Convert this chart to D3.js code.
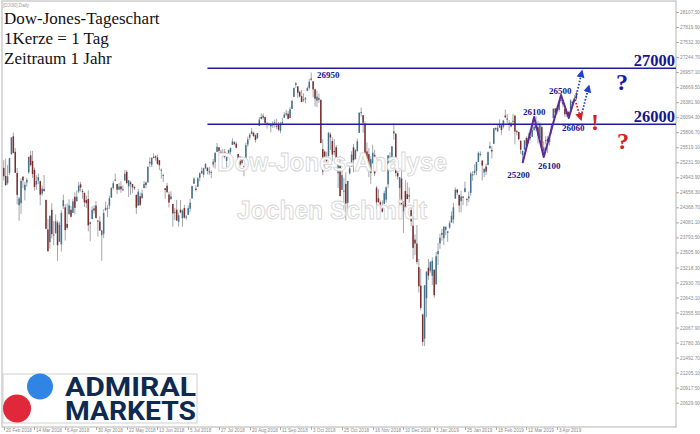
<!DOCTYPE html>
<html><head><meta charset="utf-8">
<script src="https://cdn.jsdelivr.net/npm/d3@7"></script>
<style>body{margin:0;background:#fff}svg{display:block}</style>
</head><body>
<svg id="c" width="700" height="434"></svg>
<script>
// Daily bars [open, high, low, close] of the DJI30 CFD
const feb2018 = [[25124,25272,24884,24964],[24970,25302,24777,24797],[24832,25175,24800,24962],[25030,25310,24986,25309],[25383,25709,25383,25709],[25728,25800,25401,25410],[25432,25505,25029,25029]];
const mar2018 = [[25024,25123,24425,24608],[24409,24567,24114,24538],[24447,24926,24242,24874],[24956,24962,24736,24884],[24697,24856,24502,24801],[24844,24934,24762,24895],[25040,25336,25006,25335],[25363,25450,25148,25178],[25255,25449,24933,25007],[25087,25131,24684,24758],[24803,24982,24706,24873],[24878,25017,24814,24946],[24870,24877,24408,24611],[24631,24789,24589,24727],[24719,24988,24665,24683],[24512,24512,23948,23958],[23945,24151,23509,23533],[23703,24219,23579,24202],[24322,24448,23773,23857],[23842,24107,23645,23849],[23874,24234,23865,24103]];
const apr2018 = [[24076,24118,23344,23644],[23711,24090,23711,24034],[23660,24312,23524,24264],[24392,24612,24338,24505],[24369,24429,23733,23933],[24052,24445,23944,23979],[24242,24524,24220,24408],[24322,24396,24174,24189],[24263,24535,24263,24483],[24571,24658,24237,24360],[24486,24693,24486,24573],[24673,24858,24640,24786],[24810,24858,24673,24748],[24680,24720,24535,24665],[24648,24648,24376,24463],[24509,24596,24357,24449],[24529,24695,23909,24024],[24049,24098,23718,24083],[24144,24388,24143,24322],[24348,24412,24248,24311],[24403,24488,24163,24163]];
const may2018 = [[24117,24117,23809,24100],[24098,24199,23918,23925],[23836,23872,23345,23930],[23865,24333,23779,24263],[24318,24479,24300,24358],[24341,24412,24186,24361],[24400,24591,24338,24543],[24554,24754,24554,24740],[24738,24867,24707,24831],[24887,25016,24873,24900],[24815,24815,24621,24707],[24708,24836,24696,24769],[24771,24870,24649,24714],[24701,24787,24678,24715],[24882,25087,24882,25013],[25047,25086,24812,24834],[24770,24889,24563,24887],[24845,24876,24606,24812],[24816,24816,24641,24753],[24755,24780,24700,24740],[24610,24610,24242,24362],[24402,24723,24402,24668],[24582,24650,24394,24416]];
const jun2018 = [[24542,24707,24542,24635],[24738,24872,24734,24814],[24843,24862,24734,24799],[24846,25150,24846,25146],[25211,25326,25140,25241],[25183,25320,25141,25317],[25337,25403,25306,25322],[25346,25365,25260,25320],[25327,25374,25182,25201],[25272,25272,25082,25175],[25070,25113,24917,25090],[24982,25014,24854,24987],[24733,24733,24535,24700],[24782,24838,24652,24657],[24617,24667,24367,24461],[24523,24676,24521,24580],[24434,24434,23997,24252],[24279,24357,24130,24283],[24324,24512,24110,24117],[24092,24269,23999,24216],[24324,24509,24257,24271]];
const jul2018 = [[24161,24331,23997,24307],[24357,24416,24149,24174],[24174,24220,24130,24190],[24225,24405,24225,24356],[24343,24528,24275,24456],[24538,24784,24538,24776],[24820,24947,24819,24919],[24727,24792,24673,24700],[24764,24951,24764,24924],[24935,25041,24868,25019],[25020,25133,25010,25064],[24996,25125,24942,25119],[25119,25216,25097,25199],[25127,25135,24998,25064],[25035,25141,24992,25058],[25025,25077,24925,25044],[25187,25299,25131,25241],[25232,25422,25110,25414],[25430,25601,25430,25527],[25517,25518,25360,25451],[25432,25468,25280,25307],[25357,25486,25320,25415]];
const aug2018 = [[25431,25490,25301,25333],[25259,25353,25131,25327],[25355,25474,25338,25463],[25432,25517,25393,25502],[25565,25692,25565,25629],[25614,25636,25553,25583],[25587,25625,25494,25509],[25389,25389,25230,25313],[25337,25350,25155,25187],[25218,25334,25189,25300],[25157,25157,24965,25162],[25307,25609,25307,25558],[25571,25721,25525,25669],[25703,25789,25663,25758],[25770,25888,25770,25822],[25795,25816,25714,25733],[25747,25767,25608,25656],[25688,25792,25688,25790],[25926,26095,25926,26049],[26098,26167,26051,26064],[26081,26167,26046,26124],[26096,26108,25949,25986],[25976,26010,25877,25965]];
const sep2018 = [[25965,25990,25930,25960],[25917,25986,25806,25952],[25936,26020,25888,25974],[25982,26051,25896,25995],[25932,26064,25866,25916],[25953,26005,25832,25857],[25833,26005,25787,25971],[25985,26082,25939,25999],[26082,26190,26082,26145],[26165,26237,26110,26154],[26160,26214,26052,26062],[26077,26294,26077,26246],[26254,26427,26253,26405],[26483,26657,26483,26657],[26711,26769,26655,26743],[26685,26685,26459,26562],[26581,26601,26474,26492],[26497,26616,26378,26385],[26418,26553,26387,26439],[26437,26485,26357,26458]];
const oct2018 = [[26598,26680,26598,26651],[26656,26828,26622,26774],[26833,26951,26791,26828],[26781,26781,26472,26627],[26629,26641,26299,26447],[26410,26599,26286,26487],[26457,26549,26371,26431],[26422,26444,25598,25599],[25484,25673,24987,25053],[25435,25459,25092,25340],[25313,25434,25218,25250],[25347,25805,25347,25798],[25764,25803,25469,25706],[25640,25711,25258,25379],[25445,25676,25365,25444],[25519,25564,25239,25317],[25021,25206,24741,25191],[25217,25354,24583,24583],[24705,25066,24705,24985],[24670,24934,24337,24689],[24817,25039,24122,24443],[24454,24875,24268,24875],[25021,25235,24995,25116]];
const nov2018 = [[25142,25443,25142,25380],[25517,25580,25039,25271],[25289,25486,25289,25462],[25443,25686,25443,25635],[25795,26181,25795,26181],[26176,26277,26107,26191],[26132,26132,25797,25989],[25971,26010,25329,25388],[25439,25611,25192,25287],[25388,25501,24947,25080],[25025,25344,24818,25289],[25211,25568,25211,25413],[25374,25470,24967,25017],[24745,24780,24341,24465],[24543,24715,24464,24465],[24465,24500,24380,24420],[24382,24502,24268,24286],[24437,24688,24437,24640],[24516,24773,24458,24749],[24810,25366,24740,25366],[25279,25421,25212,25339],[25303,25538,25256,25538]];
const dec2018 = [[25779,25980,25664,25826],[25780,25780,24958,25027],[25027,25080,24900,24960],[24737,24947,24242,24947],[24918,25096,24314,24389],[24292,24490,23881,24423],[24681,24890,24247,24370],[24621,24846,24527,24527],[24598,24752,24459,24597],[24316,24381,24007,24101],[24017,24180,23381,23593],[23751,23850,23452,23676],[23675,24030,23279,23324],[23225,23381,22738,22859],[22871,23194,22397,22446],[22317,22339,21712,21792],[21857,22878,21713,22878],[22629,23139,22267,23139],[23213,23381,22982,23062],[23154,23333,23118,23327]];
const jan2019 = [[23058,23413,22879,23346],[23177,23177,22638,22686],[22894,23518,22894,23433],[23474,23687,23266,23531],[23680,23864,23575,23787],[23844,23956,23731,23879],[23778,24002,23646,24001],[23939,24000,23840,23996],[23880,23918,23709,23910],[23981,24111,23961,24065],[24076,24290,24076,24207],[24137,24456,24059,24370],[24534,24750,24534,24706],[24706,24720,24600,24650],[24608,24608,24274,24404],[24487,24688,24273,24575],[24574,24588,24411,24553],[24660,24862,24660,24737],[24527,24554,24398,24528],[24543,24671,24465,24580],[24645,25048,24591,25014],[24988,25062,24878,24999]];
const feb2019 = [[25025,25193,24985,25064],[25062,25239,24982,25239],[25238,25439,25238,25411],[25371,25439,25341,25391],[25265,25265,24884,25169],[25037,25114,24948,25106],[25148,25208,24990,25053],[25178,25437,25178,25425],[25497,25625,25497,25543],[25467,25538,25305,25439],[25585,25883,25585,25883],[25883,25900,25840,25870],[25823,25946,25808,25891],[25894,26052,25894,25954],[25937,25962,25760,25850],[25912,26036,25880,26031],[26126,26241,26082,26091],[26068,26156,25981,26057],[25978,26040,25834,25986],[25970,26005,25897,25916]];
const mar2019 = [[26019,26156,25937,26026],[26122,26143,25574,25819],[25825,25852,25744,25806],[25813,25814,25650,25673],[25645,25645,25392,25473],[25367,25456,25208,25450],[25473,25651,25473,25650],[25695,25725,25540,25555],[25598,25797,25598,25702],[25713,25793,25652,25709],[25719,25918,25719,25849],[25851,25952,25822,25914],[25936,26110,25835,25887],[25903,26028,25591,25746],[25693,25994,25645,25963],[25903,25937,25478,25502],[25443,25633,25372,25516],[25646,25732,25572,25657],[25681,25732,25409,25626],[25625,25729,25552,25717],[25836,25949,25776,25929]];
const apr2019 = [[26076,26259,26076,26258],[26263,26263,26112,26180],[26269,26316,26147,26219],[26234,26400,26197,26385],[26417,26441,26368,26425],[26382,26399,26279,26341],[26258,26258,26100,26150],[26176,26192,26101,26157],[26193,26219,26111,26143],[26240,26440,26240,26412],[26385,26411,26302,26384],[26455,26522,26391,26453],[26561,26596,26421,26450]];

const noBarDays = ["2018-03-30", "2018-12-25", "2019-01-01"];
const xTickLabels = ["20 Feb 2018","14 Mar 2018","6 Apr 2018","30 Apr 2018","22 May 2018","13 Jun 2018","5 Jul 2018","27 Jul 2018","20 Aug 2018","11 Sep 2018","3 Oct 2018","25 Oct 2018","16 Nov 2018","10 Dec 2018","3 Jan 2019","25 Jan 2019","18 Feb 2019","12 Mar 2019","3 Apr 2019"];
const yTickValues = [28107.5,27819.9,27532.3,27244.7,26957.1,26669.5,26381.9,26094.3,25806.7,25519.1,25231.5,24943.9,24656.3,24368.7,24081.1,23793.5,23505.9,23218.3,22930.7,22643.1,22355.5,22067.9,21780.3,21492.7,21205.1,20917.5,20629.9];

const titleLines = ["Dow-Jones-Tageschart", "1Kerze = 1 Tag", "Zeitraum 1 Jahr"];
const levelLines = [{v: 27030, label: "27000", from: 106}, {v: 25960, label: "26000", from: 106}];
const zigzag = [[270,25217],[276,26098],[281,25332],[290,26519],[294,26079],[297,26442]];
const priceLabels = [{t:"26950", i:163, v:26844},{t:"25200", i:262, v:24930},{t:"26100", i:270.2, v:26136},{t:"26100", i:278, v:25103},{t:"26500", i:283.7, v:26538},{t:"26060", i:290.5, v:25830}];
const blueArrows = [[[297.3,26404],[300.9,26978]],[[300.9,26174],[304.5,26691]]];
const redArrows = [[[297.8,26366],[300.4,26050]]];
const marks = [{t:"?", i:321.7, v:26615, c:"#1a1aa8"},{t:"?", i:322.2, v:25485, c:"#d42020"},{t:"!", i:307.7, v:25849, c:"#d42020"}];

const bars = [].concat(feb2018, mar2018, apr2018, may2018, jun2018, jul2018, aug2018, sep2018, oct2018, nov2018, dec2018, jan2019, feb2019, mar2019, apr2019);

// trading calendar of the bars
const fmtISO = d3.timeFormat("%Y-%m-%d"), fmtLab = d3.timeFormat("%-d %b %Y");
const dates = [];
for (let d = new Date(2018, 1, 20); dates.length < bars.length; d = d3.timeDay.offset(d, 1)) {
  const wd = d.getDay();
  if (wd === 0 || wd === 6 || noBarDays.includes(fmtISO(d))) continue;
  dates.push(new Date(d));
}

const svg = d3.select("#c");
const L = 2, R = 676, T = 1, B = 427;
const x = d3.scaleLinear().domain([-0.9, 349.3]).range([L, R - 1]);
const y = d3.scaleLinear().domain([20629.9, 28107.5]).range([402.7, 12]);

// frame
svg.append("rect").attr("x", L).attr("y", T).attr("width", R - L).attr("height", B - T)
  .attr("fill", "#fff").attr("stroke", "#b4b4b4").attr("stroke-width", 1);

svg.append("text").attr("x", 3).attr("y", 7).attr("font-family", "Liberation Sans, Arial").attr("font-size", 4.6)
  .attr("fill", "#999").text("[DJI30],Daily");

// right axis
const yAxis = d3.axisRight(y).tickValues(yTickValues).tickFormat(d3.format(".2f")).tickSize(3).tickPadding(1);
const ga = svg.append("g").attr("transform", `translate(${R},0)`).call(yAxis);
ga.select(".domain").remove();
ga.selectAll("line").attr("stroke", "#aaa");
ga.selectAll("text").attr("font-family", "Liberation Sans, Arial").attr("font-size", 4.8).attr("fill", "#8a8a8a");

// bottom axis
const xt = svg.append("g");
dates.forEach((d, i) => {
  const lab = fmtLab(d);
  if (!xTickLabels.includes(lab)) return;
  const px = Math.round(x(i)) + 0.5;
  xt.append("line").attr("x1", px).attr("x2", px).attr("y1", B).attr("y2", B + 3).attr("stroke", "#aaa");
  xt.append("text").attr("x", px + 1.5).attr("y", B + 5).attr("font-family", "Liberation Sans, Arial")
    .attr("font-size", 4.6).attr("fill", "#8a8a8a").text(lab);
});

// candles
const gc = svg.append("g");
gc.selectAll("line").data(bars).join("line")
  .attr("x1", (d, i) => x(i)).attr("x2", (d, i) => x(i))
  .attr("y1", d => y(d[1])).attr("y2", d => y(d[2]))
  .attr("stroke", "#a3a7ab").attr("stroke-width", 1);
gc.selectAll("rect").data(bars).join("rect")
  .attr("x", (d, i) => x(i) - 0.75).attr("width", 1.5)
  .attr("y", d => y(Math.max(d[0], d[3])))
  .attr("height", d => Math.max(1, Math.abs(y(d[0]) - y(d[3]))))
  .attr("fill", d => d[3] >= d[0] ? "#41708f" : "#7d2c2c");

// watermark
const wm = svg.append("g").attr("font-family", "Liberation Sans, Arial").attr("font-weight", "bold")
  .attr("font-size", 25).attr("fill", "#fff").attr("stroke", "#d6d6d6").attr("stroke-width", 0.9);
wm.append("text").attr("x", 217).attr("y", 171).attr("textLength", 230).attr("lengthAdjust", "spacingAndGlyphs").text("Dow-Jones-Analyse");
wm.append("text").attr("x", 237).attr("y", 219).attr("textLength", 190).attr("lengthAdjust", "spacingAndGlyphs").text("Jochen Schmidt");

// level lines
const navy = "#16168e";
levelLines.forEach(l => {
  svg.append("line").attr("x1", x(l.from)).attr("x2", R).attr("y1", y(l.v)).attr("y2", y(l.v))
    .attr("stroke", "#1c1ca6").attr("stroke-width", 1.5);
  svg.append("text").attr("x", R - 1).attr("y", y(l.v) - 2.5).attr("text-anchor", "end")
    .attr("font-family", "Liberation Serif, Times New Roman").attr("font-weight", "bold")
    .attr("font-size", 16.5).attr("fill", navy).text(l.label);
});

// zigzag
svg.append("path").datum(zigzag)
  .attr("d", d3.line().x(d => x(d[0])).y(d => y(d[1])))
  .attr("fill", "none").attr("stroke", "#5a2a9a").attr("stroke-width", 2).attr("stroke-linejoin", "round");

// arrows
const defs = svg.append("defs");
[["ab", "#1f3fd6"], ["ar", "#d42020"]].forEach(([id, c]) => {
  defs.append("marker").attr("id", id).attr("viewBox", "0 0 10 10").attr("refX", 8).attr("refY", 5)
    .attr("markerWidth", 8).attr("markerHeight", 8).attr("markerUnits", "userSpaceOnUse").attr("orient", "auto")
    .append("path").attr("d", "M0,0 L10,5 L0,10 z").attr("fill", c);
});
const arrowLine = d3.line().x(d => x(d[0])).y(d => y(d[1]));
svg.selectAll("path.ba").data(blueArrows).join("path").attr("class", "ba")
  .attr("d", arrowLine).attr("stroke", "#1f3fd6").attr("stroke-width", 1.8).attr("stroke-dasharray", "1.6,1.6")
  .attr("fill", "none").attr("marker-end", "url(#ab)");
svg.selectAll("path.ra").data(redArrows).join("path").attr("class", "ra")
  .attr("d", arrowLine).attr("stroke", "#d42020").attr("stroke-width", 1.8).attr("stroke-dasharray", "1.6,1.6")
  .attr("fill", "none").attr("marker-end", "url(#ar)");

// price labels
svg.selectAll("text.pl").data(priceLabels).join("text").attr("class", "pl")
  .attr("x", d => x(d.i)).attr("y", d => y(d.v)).text(d => d.t)
  .attr("font-family", "Liberation Serif, Times New Roman").attr("font-weight", "bold")
  .attr("font-size", 9).attr("fill", navy);

// ? and !
svg.selectAll("text.mk").data(marks).join("text").attr("class", "mk")
  .attr("x", d => x(d.i)).attr("y", d => y(d.v)).attr("text-anchor", "middle").text(d => d.t)
  .attr("font-family", "Liberation Serif, Times New Roman").attr("font-weight", "bold")
  .attr("font-size", 24).attr("fill", d => d.c);

// title
svg.selectAll("text.tt").data(titleLines).join("text").attr("class", "tt")
  .attr("x", 4).attr("y", (d, i) => 24 + i * 20).text(d => d)
  .attr("font-family", "Liberation Serif, Times New Roman").attr("font-size", 17).attr("fill", "#111");

// logo
const lg = svg.append("g");
lg.append("rect").attr("x", 3).attr("y", 374).attr("width", 194).attr("height", 49)
  .attr("fill", "#fff").attr("stroke", "#d0d0d0").attr("stroke-width", 1);
lg.append("circle").attr("cx", 40).attr("cy", 386.5).attr("r", 13).attr("fill", "#2f84e4");
lg.append("circle").attr("cx", 17).attr("cy", 408.5).attr("r", 14).attr("fill", "#e0283a");
lg.append("text").attr("x", 65).attr("y", 396).attr("textLength", 131).attr("lengthAdjust", "spacingAndGlyphs")
  .attr("font-family", "Roboto, Liberation Sans").attr("font-weight", "bold").attr("font-size", 26).attr("fill", "#0e2a50").text("ADMIRAL");
lg.append("text").attr("x", 65).attr("y", 420).attr("textLength", 131).attr("lengthAdjust", "spacingAndGlyphs")
  .attr("font-family", "Roboto, Liberation Sans").attr("font-weight", "bold").attr("font-size", 26).attr("fill", "#0e2a50").text("MARKETS");
</script>
</body></html>
